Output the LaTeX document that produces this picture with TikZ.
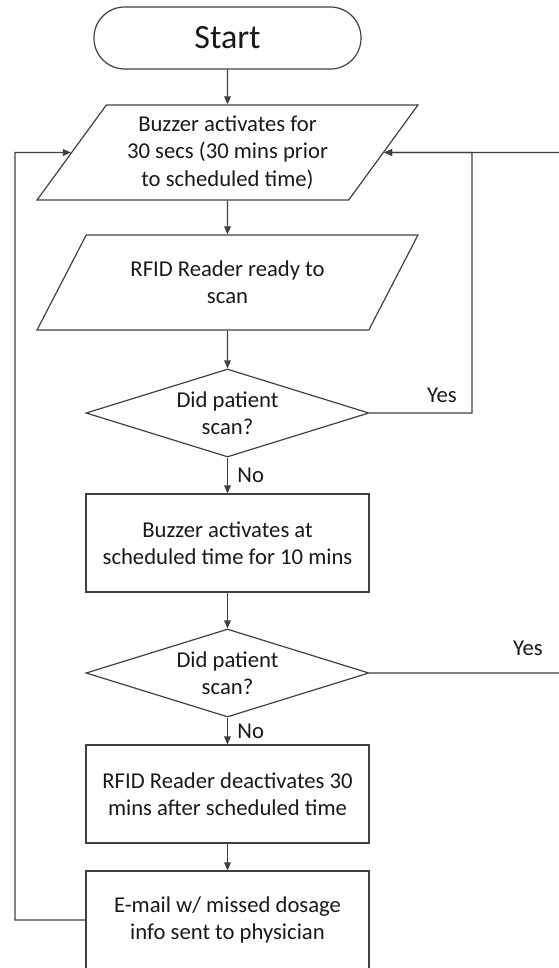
\documentclass[tikz,border=0pt]{standalone}
\usepackage{fontspec}
\setmainfont{Carlito}
\usetikzlibrary{shapes.geometric,arrows.meta}

\begin{document}
\begin{tikzpicture}[x=0.75pt, y=-0.75pt,
        every node/.style={text=black!90, font=\fontsize{17}{20.5}\selectfont},
        term/.style={draw=black!75, line width=0.9pt, rectangle, rounded corners=23pt,
            minimum width=200.25pt, minimum height=46.5pt, font=\fontsize{25.5}{30}\selectfont},
        io/.style={draw=black!75, line width=0.9pt, trapezium, trapezium left angle=52,
            trapezium right angle=128, trapezium stretches=true, align=center,
            minimum width=286.5pt, minimum height=71.25pt, inner sep=0pt},
        box/.style={draw=black!75, line width=0.9pt, rectangle, align=center,
            minimum width=212.25pt, minimum height=73.5pt},
        decision/.style={draw=black!75, line width=0.9pt, diamond, aspect=3.2, align=center,
            minimum width=212.25pt, minimum height=66pt, inner sep=0pt},
        flow/.style={draw=black!75, line width=0.9pt, -{Triangle[length=6pt, width=5pt]}}]
        \useasboundingbox (0,0) rectangle (558,968);

        \node[term] (start) at (227.5, 38) {Start};
        \node[io] (buzz) at (227.5, 152.5) {Buzzer activates for\\30 secs (30 mins prior\\to scheduled time)};
        \node[io] (rfid) at (227.5, 282.5) {RFID Reader ready to\\scan};
        \node[decision] (dec1) at (227.5, 413) {Did patient\\scan?};
        \node[box] (act) at (227.5, 543) {Buzzer activates at\\scheduled time for 10 mins};
        \node[decision] (dec2) at (227.5, 673) {Did patient\\scan?};
        \node[box] (deact) at (227.5, 794) {RFID Reader deactivates 30\\mins after scheduled time};
        \node[box] (mail) at (227.5, 920) {E-mail w/ missed dosage\\info sent to physician};

        \coordinate (ltop) at (15, 152.5);
        \coordinate (rtop) at (472, 152.5);
        \coordinate (redge) at (562, 152.5);

        \draw[flow] (start) -- (buzz);
        \draw[flow] (buzz) -- (rfid);
        \draw[flow] (rfid) -- (dec1);
        \draw[flow] (dec1) -- (act) node[pos=0.5, right, inner sep=7pt] {No};
        \draw[flow] (act) -- (dec2);
        \draw[flow] (dec2) -- (deact) node[pos=0.5, right, inner sep=7pt] {No};
        \draw[flow] (deact) -- (mail);

        \draw[flow] (mail.west) -| (ltop) -- (buzz.west);
        \draw[flow] (dec1.east) -| (rtop) -- (buzz.east);
        \draw[flow] (dec2.east) -| (redge) -- (buzz.east);

        \node (yes1) at (442, 395) {Yes};
        \node (yes2) at (528, 648) {Yes};
    \end{tikzpicture}
\end{document}
